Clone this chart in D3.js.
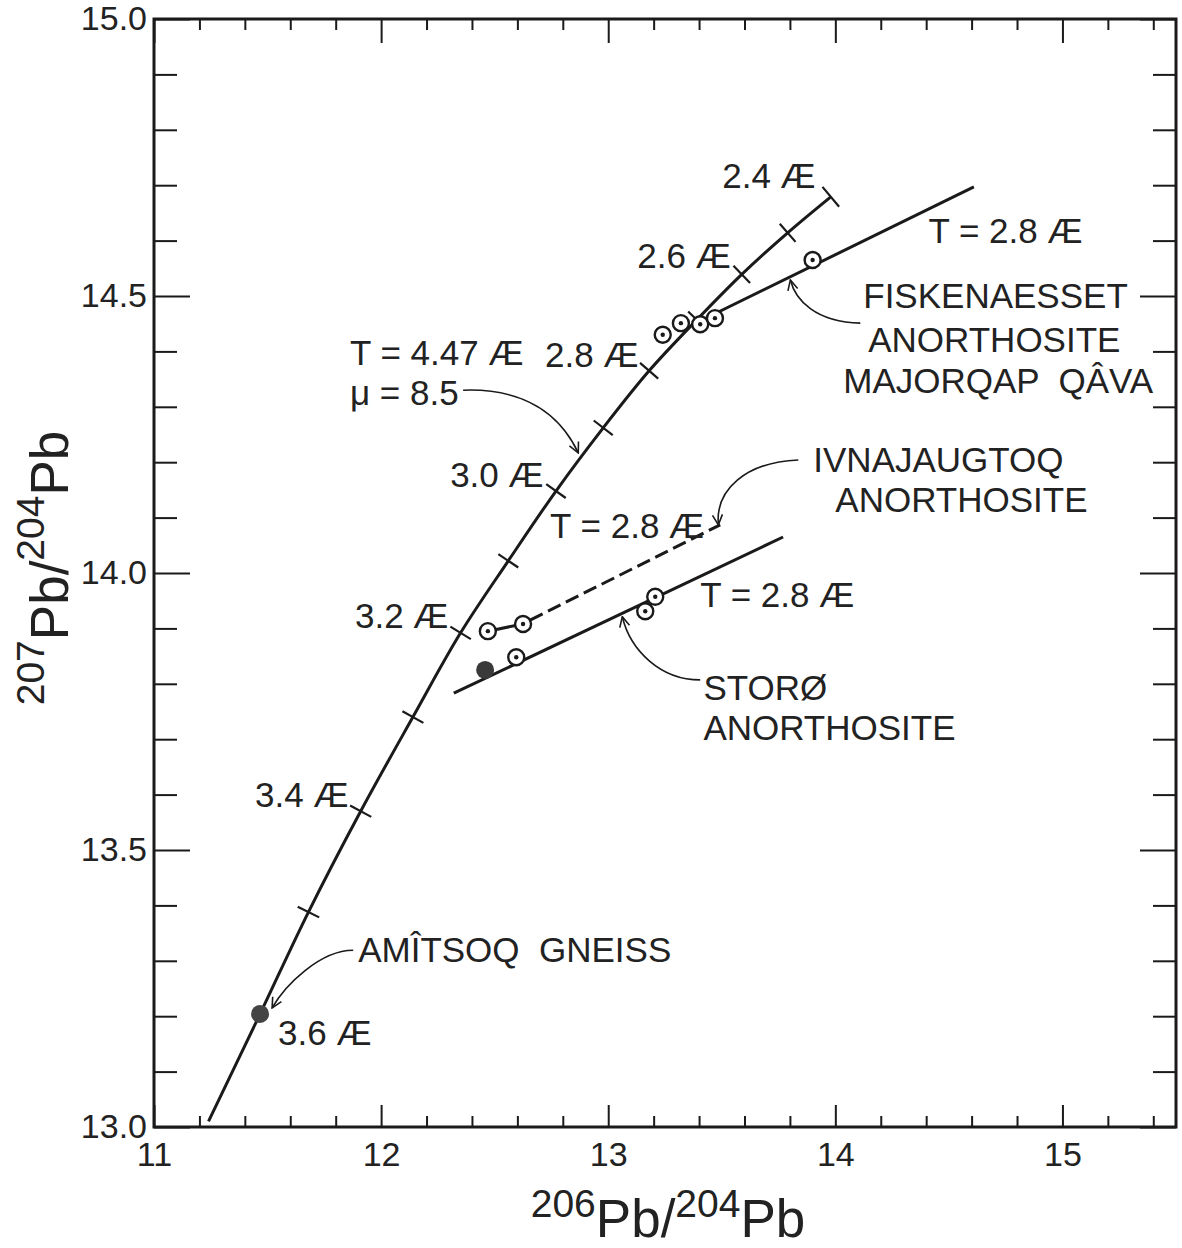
<!DOCTYPE html>
<html>
<head>
<meta charset="utf-8">
<script src="https://cdn.jsdelivr.net/npm/d3@7"></script>
<style>
  html, body { margin: 0; padding: 0; background: #fff; }
  svg text { font-family: "Liberation Sans", Arial, sans-serif; fill: #222; }
</style>
</head>
<body>
<div id="chart"></div>
<script>
// growth curve (T=4.47 AE, mu=8.5), ages in AE
var ages   = [3.7, 3.6, 3.5, 3.4, 3.3, 3.2, 3.1, 3.0, 2.9, 2.8, 2.7, 2.6, 2.5, 2.4];
var curveX = [11.24, 11.467, 11.68, 11.91, 12.14, 12.35, 12.56, 12.77, 12.978, 13.18, 13.39, 13.588, 13.79, 13.98];
var curveY = [13.01, 13.204, 13.388, 13.570, 13.740, 13.892, 14.022, 14.148, 14.262, 14.365, 14.457, 14.539, 14.614, 14.679];

// samples
var fiskX = [13.24, 13.32, 13.405, 13.47, 13.90];
var fiskY = [14.430, 14.451, 14.449, 14.460, 14.565];
var ivnaX = [12.47, 12.625];
var ivnaY = [13.895, 13.908];
var storX = [12.595, 13.163, 13.207];
var storY = [13.848, 13.931, 13.957];
var storFilled = [12.458, 13.825];
var amitsoq = [11.467, 13.204];

// isochrons (T = 2.8 AE)
var fiskLine = [[13.42, 14.458], [14.61, 14.697]];
var ivnaSolid = [[12.47, 13.895], [12.625, 13.908]];
var ivnaDash = [[12.656, 13.915], [13.493, 14.087]];
var storLine = [[12.32, 13.783], [13.77, 14.065]];

// axis ticks
var xMajor = [11, 12, 13, 14, 15];
var yMajor = [13.0, 13.5, 14.0, 14.5, 15.0];

// labels: [text, x, y] in data units (baseline, start)
var labels = [
  ["2.4 Æ", 13.502, 14.695],
  ["T = 2.8 Æ", 14.410, 14.596],
  ["2.6 Æ", 13.128, 14.551],
  ["2.8 Æ", 12.722, 14.372],
  ["T = 4.47 Æ", 11.863, 14.375],
  ["μ = 8.5", 11.863, 14.303],
  ["3.0 Æ", 12.304, 14.155],
  ["T = 2.8 Æ", 12.744, 14.063],
  ["3.2 Æ", 11.885, 13.901],
  ["T = 2.8 Æ", 13.405, 13.939],
  ["3.4 Æ", 11.445, 13.578],
  ["3.6 Æ", 11.546, 13.148],
  ["AMÎTSOQ  GNEISS", 11.899, 13.298],
  ["FISKENAESSET", 14.123, 14.478],
  ["ANORTHOSITE", 14.145, 14.399],
  ["MAJORQAP  QÂVA", 14.035, 14.325],
  ["IVNAJAUGTOQ", 13.903, 14.182],
  ["ANORTHOSITE", 14.000, 14.110],
  ["STORØ", 13.419, 13.771],
  ["ANORTHOSITE", 13.419, 13.699]
];

// curved leader arrows: start, control1, control2, end
var arrows = [
  [[12.361, 14.330], [12.634, 14.334], [12.789, 14.285], [12.868, 14.217]],
  [[14.110, 14.451], [13.912, 14.453], [13.824, 14.493], [13.802, 14.529]],
  [[13.837, 14.204], [13.604, 14.200], [13.471, 14.150], [13.485, 14.087]],
  [[13.405, 13.807], [13.229, 13.807], [13.097, 13.861], [13.062, 13.921]],
  [[11.877, 13.319], [11.731, 13.319], [11.577, 13.256], [11.520, 13.215]]
];

var W = 1182, H = 1248;
var margin = {left: 154, top: 19, right: 6, bottom: 121};
var ink = "#1a1a1a";

var svg = d3.select("#chart").append("svg")
  .attr("width", W).attr("height", H);

var x = d3.scaleLinear().domain([11, 15.5]).range([margin.left, W - margin.right]);
var y = d3.scaleLinear().domain([13, 15]).range([H - margin.bottom, margin.top]);

var defs = svg.append("defs");
defs.append("marker")
  .attr("id", "head")
  .attr("viewBox", "0 0 12 12")
  .attr("refX", 11).attr("refY", 6)
  .attr("markerWidth", 12).attr("markerHeight", 12)
  .attr("markerUnits", "userSpaceOnUse")
  .attr("orient", "auto")
  .append("path")
  .attr("d", "M1,1 L11,6 L1,11")
  .attr("fill", "none").attr("stroke", ink).attr("stroke-width", 1.6);

// frame ticks
var xMinor = d3.range(11, 15.51, 0.2).filter(function(v){ return Math.abs(v - Math.round(v)) > 1e-6; });
var yMinor = d3.range(13, 15.001, 0.1).filter(function(v){ return Math.abs(v*2 - Math.round(v*2)) > 1e-6; });

function styleAxis(g) {
  g.select(".domain").remove();
  g.selectAll(".tick line").attr("stroke", ink).attr("stroke-width", 2);
  g.selectAll(".tick text").attr("fill", "#222").style("font-size", "34px")
    .style("font-family", "'Liberation Sans', Arial, sans-serif");
}

svg.append("g").attr("transform", "translate(0," + y(13) + ")")
  .call(d3.axisBottom(x).tickValues(xMinor).tickSize(-11).tickFormat(""))
  .call(styleAxis);
svg.append("g").attr("transform", "translate(0," + y(13) + ")")
  .call(d3.axisBottom(x).tickValues(xMajor).tickSize(-22).tickPadding(15).tickFormat(d3.format("d")))
  .call(styleAxis);
svg.append("g").attr("transform", "translate(0," + y(15) + ")")
  .call(d3.axisTop(x).tickValues(xMinor).tickSize(-11).tickFormat(""))
  .call(styleAxis);
svg.append("g").attr("transform", "translate(0," + y(15) + ")")
  .call(d3.axisTop(x).tickValues(xMajor).tickSize(-24).tickFormat(""))
  .call(styleAxis);

svg.append("g").attr("transform", "translate(" + x(11) + ",0)")
  .call(d3.axisLeft(y).tickValues(yMinor).tickSize(-23).tickFormat(""))
  .call(styleAxis);
svg.append("g").attr("transform", "translate(" + x(11) + ",0)")
  .call(d3.axisLeft(y).tickValues(yMajor).tickSize(-36).tickPadding(7).tickFormat(d3.format(".1f")))
  .call(styleAxis);
svg.append("g").attr("transform", "translate(" + x(15.5) + ",0)")
  .call(d3.axisRight(y).tickValues(yMinor).tickSize(-23).tickFormat(""))
  .call(styleAxis);
svg.append("g").attr("transform", "translate(" + x(15.5) + ",0)")
  .call(d3.axisRight(y).tickValues(yMajor).tickSize(-36).tickFormat(""))
  .call(styleAxis);

// frame
svg.append("rect")
  .attr("x", x(11)).attr("y", y(15))
  .attr("width", x(15.5) - x(11)).attr("height", y(13) - y(15))
  .attr("fill", "none").attr("stroke", ink).attr("stroke-width", 3);

// axis titles
var xt = svg.append("text")
  .attr("x", (x(11) + x(15.5)) / 2 + 3).attr("y", 1237)
  .attr("text-anchor", "middle").style("font-size", "53px");
xt.append("tspan").text("206").style("font-size", "39px").attr("dy", -20);
xt.append("tspan").text("Pb").attr("dy", 20);
xt.append("tspan").text("/");
xt.append("tspan").text("204").style("font-size", "39px").attr("dy", -20);
xt.append("tspan").text("Pb").attr("dy", 20);

var yt = svg.append("text")
  .attr("transform", "translate(68," + 568 + ") rotate(-90)")
  .attr("text-anchor", "middle").style("font-size", "53px");
yt.append("tspan").text("207").style("font-size", "39px").attr("dy", -24);
yt.append("tspan").text("Pb").attr("dy", 24);
yt.append("tspan").text("/");
yt.append("tspan").text("204").style("font-size", "39px").attr("dy", -24);
yt.append("tspan").text("Pb").attr("dy", 24);

// growth curve
var growth = ages.map(function(a, i){ return {age: a, x: curveX[i], y: curveY[i]}; });
svg.append("path")
  .datum(growth)
  .attr("d", d3.line().x(function(d){ return x(d.x); }).y(function(d){ return y(d.y); }).curve(d3.curveCatmullRom))
  .attr("fill", "none").attr("stroke", ink).attr("stroke-width", 3);

// age ticks across the curve
growth.forEach(function(d, i) {
  if (d.age > 3.55) return;
  var a = growth[Math.max(i - 1, 0)], b = growth[Math.min(i + 1, growth.length - 1)];
  var dx = x(b.x) - x(a.x), dy = y(b.y) - y(a.y);
  var len = Math.sqrt(dx*dx + dy*dy);
  var nx = -dy / len, ny = dx / len;
  var h = i === growth.length - 1 ? 13 : 12;
  svg.append("line")
    .attr("x1", x(d.x) - nx*h).attr("y1", y(d.y) - ny*h)
    .attr("x2", x(d.x) + nx*h).attr("y2", y(d.y) + ny*h)
    .attr("stroke", ink).attr("stroke-width", 2.2);
});

// isochrons
function seg(pts, dash) {
  svg.append("line")
    .attr("x1", x(pts[0][0])).attr("y1", y(pts[0][1]))
    .attr("x2", x(pts[1][0])).attr("y2", y(pts[1][1]))
    .attr("stroke", ink).attr("stroke-width", 3)
    .attr("stroke-dasharray", dash || null);
}
seg(fiskLine);
seg(ivnaSolid);
seg(ivnaDash, "14,6");
seg(storLine);

// arrows
arrows.forEach(function(p) {
  var path = d3.path();
  path.moveTo(x(p[0][0]), y(p[0][1]));
  path.bezierCurveTo(x(p[1][0]), y(p[1][1]), x(p[2][0]), y(p[2][1]), x(p[3][0]), y(p[3][1]));
  svg.append("path").attr("d", path.toString())
    .attr("fill", "none").attr("stroke", ink).attr("stroke-width", 1.6)
    .attr("marker-end", "url(#head)");
});

// open circles with centre dot
function openPts(xs, ys) {
  var g = svg.append("g");
  var pts = xs.map(function(v, i){ return [v, ys[i]]; });
  g.selectAll("circle.o").data(pts).enter().append("circle")
    .attr("cx", function(d){ return x(d[0]); }).attr("cy", function(d){ return y(d[1]); })
    .attr("r", 8).attr("fill", "#fff").attr("stroke", ink).attr("stroke-width", 2.4);
  g.selectAll("circle.c").data(pts).enter().append("circle")
    .attr("cx", function(d){ return x(d[0]); }).attr("cy", function(d){ return y(d[1]); })
    .attr("r", 2.2).attr("fill", ink);
}
openPts(fiskX, fiskY);
openPts(ivnaX, ivnaY);
openPts(storX, storY);

svg.append("circle").attr("cx", x(storFilled[0])).attr("cy", y(storFilled[1]))
  .attr("r", 9).attr("fill", "#3a3a3a");
svg.append("circle").attr("cx", x(amitsoq[0])).attr("cy", y(amitsoq[1]))
  .attr("r", 9).attr("fill", "#444");

// labels
svg.append("g").selectAll("text").data(labels).enter().append("text")
  .attr("x", function(d){ return x(d[1]); })
  .attr("y", function(d){ return y(d[2]); })
  .style("font-size", "35px")
  .style("white-space", "pre")
  .text(function(d){ return d[0]; });
</script>
</body>
</html>
